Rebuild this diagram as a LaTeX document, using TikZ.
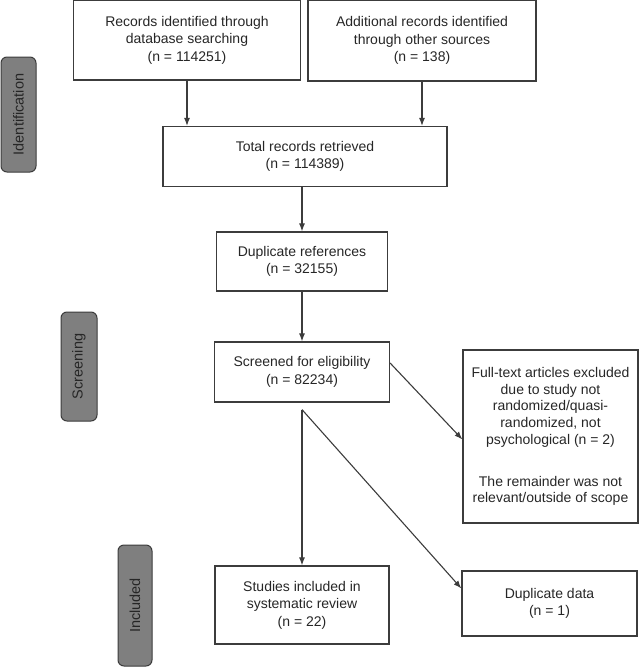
\documentclass[tikz,border=0pt]{standalone}
\usepackage{fontspec}
\setmainfont{Liberation Sans}
\usepackage{xcolor}
\usepackage{tikz}
\usetikzlibrary{positioning, arrows.meta}
\definecolor{linegray}{HTML}{3C3C3C}
\definecolor{stagegray}{HTML}{7F7F7F}
\definecolor{textgray}{HTML}{262626}

\begin{document}
\begin{tikzpicture}[x=1pt, y=-1pt,
        box/.style={draw=linegray, line width=1.2pt, align=center, text=textgray, font=\fontsize{14}{17.5}\selectfont, inner sep=2pt},
        stage/.style={draw=linegray, fill=stagegray, line width=1pt, rounded corners=6pt, rotate=90, text=textgray, font=\fontsize{14.5}{17}\selectfont},
        arr/.style={draw=linegray, line width=1.1pt, >={Latex[length=8pt, width=6pt]}}]
                \useasboundingbox (0,0) rectangle (638,667);

                % phase labels on the left
                \node[stage, minimum width=115pt, minimum height=35pt] (identification) at (18.5,114.5) {Identification};
                \node[stage, minimum width=109pt, minimum height=36pt] (screening) at (79,366.5) {Screening};
                \node[stage, minimum width=121pt, minimum height=34pt] (included) at (135,605.5) {Included};

                \node[box, minimum width=227pt, minimum height=80pt] (records) at (187,40) {Records identified through\\database searching\\(n = 114251)};
                \node[box, minimum width=228pt, minimum height=81pt] (additional) at (422,40.5) {Additional records identified\\through other sources\\(n = 138)};
                \node[box, minimum width=284pt, minimum height=60pt] (total) at (305,156.5) {Total records retrieved\\(n = 114389)};
                \node[box, minimum width=171pt, minimum height=59pt] (duplicates) at (302,261.5) {Duplicate references\\(n = 32155)};
                \node[box, minimum width=175pt, minimum height=60pt] (screened) at (302,372) {Screened for eligibility\\(n = 82234)};
                \node[box, minimum width=175pt, minimum height=173pt, font=\fontsize{14}{16.7}\selectfont] (fulltext) at (550.5,436.5) {Full-text articles excluded\\due to study not\\randomized/quasi-\\randomized, not\\psychological (n = 2)\\[25pt]The remainder was not\\relevant/outside of scope};
                \node[box, minimum width=174pt, minimum height=78pt] (studies) at (302,605) {Studies included in\\systematic review\\(n = 22)};
                \node[box, minimum width=175pt, minimum height=65pt] (dupdata) at (549.5,603.5) {Duplicate data\\(n = 1)};

                \coordinate[below=7pt of screened.south] (split);

                \draw[->, arr] (records.south) -- (records.south |- total.north);
                \draw[->, arr] (additional.south) -- (additional.south |- total.north);
                \draw[->, arr] (total.south -| duplicates.north) -- (duplicates.north);
                \draw[->, arr] (duplicates) -- (screened);
                \draw[->, arr] ([yshift=9pt]screened.east) -- ([yshift=-3pt]fulltext.west);
                \draw[->, arr] (split) -- (studies.north);
                \draw[->, arr] (split) -- ([yshift=15pt]dupdata.west);
              \end{tikzpicture}
\end{document}
